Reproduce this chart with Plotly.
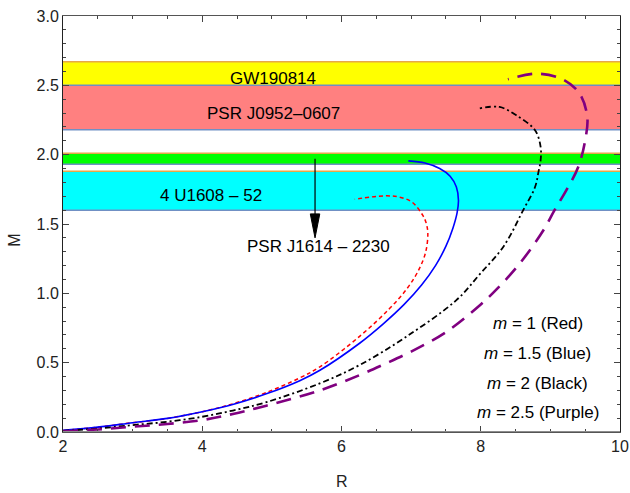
import plotly.graph_objects as go

# ---------------- data ----------------
# Observational mass bands (M_sun)
band_names = ["PSR J0952–0607", "GW190814", "PSR J1614–2230", "4 U1608 – 52"]
band_low = [2.18, 2.50, 1.93, 1.60]
band_high = [2.50, 2.67, 2.01, 1.88]
band_colors = ["#FF8080", "#FFFF00", "#00FF00", "#00FFFF"]

# Band label placement (R, M)
label_texts = ["GW190814", "PSR J0952–0607", "4 U1608 – 52"]
label_R = [5.02, 5.02, 4.13]
label_M = [2.55, 2.30, 1.707]

# Arrow for PSR J1614-2230
arrow_R = 5.62
arrow_M_start = 1.97
arrow_M_end = 1.40
arrow_label = "PSR J1614 – 2230"
arrow_label_R = 5.67
arrow_label_M = 1.335

# Mass-radius curves
red_R = [2.0, 2.5, 3.0, 3.5, 4.0, 4.45, 4.92, 5.4, 5.69, 6.26, 6.69, 6.95, 7.12, 7.21, 7.24, 7.22, 7.17, 7.01, 6.82, 6.62, 6.19]
red_M = [0.01, 0.035, 0.067, 0.098, 0.146, 0.205, 0.285, 0.39, 0.47, 0.69, 0.89, 1.04, 1.18, 1.30, 1.431, 1.50, 1.56, 1.659, 1.695, 1.703, 1.679]

blue_R = [2.0, 2.5, 3.0, 3.5, 4.0, 4.45, 4.92, 5.4, 5.69, 6.26, 6.6, 6.9, 7.15, 7.35, 7.5, 7.6, 7.66, 7.68, 7.65, 7.56, 7.41, 7.2, 6.96]
blue_M = [0.012, 0.035, 0.067, 0.098, 0.146, 0.20, 0.275, 0.37, 0.445, 0.64, 0.78, 0.92, 1.06, 1.20, 1.34, 1.47, 1.58, 1.67, 1.767, 1.845, 1.90, 1.94, 1.955]

black_R = [2.0, 2.5, 3.0, 3.5, 4.0, 4.44, 4.92, 5.69, 6.26, 6.93, 7.65, 7.99, 8.33, 8.61, 8.78, 8.83, 8.86, 8.86, 8.78, 8.51, 8.27, 7.98]
black_M = [0.008, 0.025, 0.05, 0.074, 0.11, 0.155, 0.215, 0.351, 0.483, 0.687, 0.951, 1.14, 1.34, 1.60, 1.767, 1.878, 1.96, 2.056, 2.176, 2.284, 2.344, 2.334]

purple_R = [2.0, 2.5, 3.0, 3.5, 4.0, 4.44, 4.92, 5.69, 6.26, 6.62, 7.0, 7.5, 8.0, 8.23, 8.56, 8.90, 9.06, 9.23, 9.40, 9.50, 9.53, 9.42, 9.18, 8.80, 8.39]
purple_M = [0.004, 0.018, 0.038, 0.058, 0.086, 0.13, 0.19, 0.30, 0.41, 0.49, 0.58, 0.72, 0.92, 1.03, 1.215, 1.455, 1.60, 1.744, 1.911, 2.104, 2.272, 2.440, 2.543, 2.584, 2.543]

legend_texts = ["<i>m</i> = 1 (Red)", "<i>m</i> = 1.5 (Blue)", "<i>m</i> = 2 (Black)", "<i>m</i> = 2.5 (Purple)"]
legend_R = 8.82
legend_M = [0.783, 0.567, 0.351, 0.142]

FONT = "Liberation Sans, Arial, sans-serif"
ANN_SIZE = 17

fig = go.Figure()

# ---------------- bands ----------------
shapes = []
for lo, hi, col in zip(band_low, band_high, band_colors):
    shapes.append(dict(type="rect", xref="paper", yref="y", x0=0, x1=1, y0=lo, y1=hi,
                       fillcolor=col, line_width=0, layer="below"))
    shapes.append(dict(type="line", xref="paper", yref="y", x0=0, x1=1, y0=hi, y1=hi,
                       line=dict(color="#E8A848", width=1.5), layer="below"))
    shapes.append(dict(type="line", xref="paper", yref="y", x0=0, x1=1, y0=lo, y1=lo,
                       line=dict(color="#7090C4", width=1.5), layer="below"))
# grey x-axis line at M = 0
shapes.append(dict(type="line", xref="paper", yref="y", x0=0, x1=1, y0=0, y1=0,
                   line=dict(color="#8C8C8C", width=2), layer="above"))

# ---------------- curves ----------------
fig.add_trace(go.Scatter(x=red_R, y=red_M, mode="lines", line_shape="spline",
                         line=dict(color="#FF0000", width=1.5, dash="4px,3px")))
fig.add_trace(go.Scatter(x=blue_R, y=blue_M, mode="lines", line_shape="spline",
                         line=dict(color="#0000FF", width=1.6)))
fig.add_trace(go.Scatter(x=black_R, y=black_M, mode="lines", line_shape="spline",
                         line=dict(color="#000000", width=1.8, dash="6px,3px,2px,3px")))
fig.add_trace(go.Scatter(x=purple_R, y=purple_M, mode="lines", line_shape="spline",
                         line=dict(color="#800080", width=2.6, dash="15px,9px")))

# ---------------- arrow ----------------
head_len = 0.173   # in M units
head_half = 0.068  # in R units
fig.add_trace(go.Scatter(x=[arrow_R, arrow_R], y=[arrow_M_start, arrow_M_end + head_len * 0.5],
                         mode="lines", line=dict(color="#000000", width=1.2)))
fig.add_trace(go.Scatter(x=[arrow_R - head_half, arrow_R + head_half, arrow_R, arrow_R - head_half],
                         y=[arrow_M_end + head_len, arrow_M_end + head_len, arrow_M_end, arrow_M_end + head_len],
                         mode="lines", fill="toself", fillcolor="#000000",
                         line=dict(color="#000000", width=1)))

annotations = []
for t, x, y in zip(label_texts, label_R, label_M):
    annotations.append(dict(x=x, y=y, xref="x", yref="y", text=t, showarrow=False,
                            font=dict(family=FONT, size=ANN_SIZE, color="#000000")))
annotations.append(dict(x=arrow_label_R, y=arrow_label_M, xref="x", yref="y", text=arrow_label,
                        showarrow=False, font=dict(family=FONT, size=ANN_SIZE, color="#000000")))
for t, y in zip(legend_texts, legend_M):
    annotations.append(dict(x=legend_R, y=y, xref="x", yref="y", text=t, showarrow=False,
                            font=dict(family=FONT, size=ANN_SIZE, color="#000000")))
# axis titles
annotations.append(dict(x=-0.087, y=0.461, xref="paper", yref="paper", text="M", showarrow=False,
                        xanchor="center", yanchor="middle",
                        textangle=-90, font=dict(family=FONT, size=16, color="#222222")))
annotations.append(dict(x=0.5, y=-0.119, xref="paper", yref="paper", text="R", showarrow=False,
                        xanchor="center", yanchor="middle",
                        font=dict(family=FONT, size=16, color="#222222")))

fig.update_layout(
    width=630, height=493, autosize=False,
    margin=dict(l=63, r=10, t=16, b=61, autoexpand=False),
    paper_bgcolor="white", plot_bgcolor="white",
    showlegend=False,
    shapes=shapes,
    annotations=annotations,
    font=dict(family=FONT, size=16, color="#222222"),
    xaxis=dict(range=[2, 10], tickvals=[2, 4, 6, 8, 10], ticks="inside", ticklen=6,
               tickcolor="#444444", showline=True, linecolor="#555555", linewidth=1,
               mirror="ticks", showgrid=False, zeroline=False, automargin=False,
               minor=dict(dtick=0.5, ticks="inside", ticklen=3, tickcolor="#444444"),
               tickfont=dict(family=FONT, size=16, color="#222222")),
    yaxis=dict(range=[0, 3], dtick=0.5, tickformat=".1f", ticks="inside", ticklen=6,
               tickcolor="#444444", showline=True, linecolor="#222222", linewidth=1,
               mirror="ticks", showgrid=False, zeroline=False, automargin=False,
               minor=dict(dtick=0.1, ticks="inside", ticklen=3, tickcolor="#444444"),
               tickfont=dict(family=FONT, size=16, color="#222222")),
)

fig.write_html("out.html", config={"displayModeBar": False, "responsive": False},
               post_script="document.body.style.margin='0px';")
